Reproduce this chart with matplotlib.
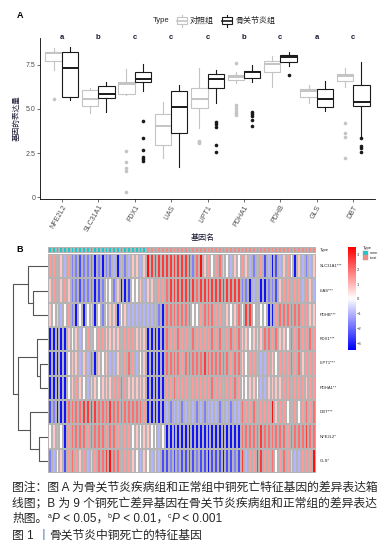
import numpy as np
import matplotlib
matplotlib.use("Agg")
import matplotlib.pyplot as plt
from matplotlib.colors import LinearSegmentedColormap, ListedColormap
from matplotlib.patches import Rectangle

plt.rcParams['font.family'] = ['Liberation Sans', 'Noto Sans CJK SC']

# ---------------- data: panel A (boxplots) ----------------
genes = ['NFE2L2', 'SLC31A1', 'FDX1', 'LIAS', 'LIPT1', 'PDHA1', 'PDHB', 'GLS', 'DBT']
sig_letters = ['a', 'b', 'c', 'c', 'c', 'b', 'c', 'a', 'c']

# 对照组
ctrl_lo = [7.19, 4.75, 5.78, 2.20, 3.90, 6.44, 6.25, 5.31, 6.21]
ctrl_q1 = [7.70, 5.15, 5.82, 2.95, 5.03, 6.63, 7.06, 5.65, 6.57]
ctrl_med = [8.17, 5.54, 6.40, 4.03, 5.55, 6.78, 7.53, 6.02, 6.85]
ctrl_q3 = [8.23, 6.06, 6.53, 4.69, 6.16, 6.91, 7.70, 6.10, 6.97]
ctrl_hi = [8.42, 6.15, 7.23, 5.40, 7.29, 7.10, 7.98, 6.34, 7.29]
ctrl_out = [[5.54], [], [2.63, 2.01, 1.67, 1.48, 0.28], [], [3.18, 3.10, 3.05],
            [7.60, 5.21, 5.03, 4.89, 4.75, 4.65], [], [], [4.18, 3.65, 3.39, 2.20]]

# 骨关节炎组
oa_lo = [5.50, 4.84, 6.02, 1.73, 5.31, 6.53, 7.40, 4.88, 3.45]
oa_q1 = [5.65, 5.59, 6.50, 3.62, 6.16, 6.72, 7.63, 5.08, 5.16]
oa_med = [7.29, 5.84, 6.68, 5.08, 6.68, 7.08, 7.91, 5.55, 5.37]
oa_q3 = [8.23, 6.29, 7.06, 6.00, 6.97, 7.15, 8.04, 6.10, 6.34]
oa_hi = [8.51, 6.53, 7.51, 6.34, 7.19, 7.47, 8.19, 6.57, 7.66]
oa_out = [[], [], [4.33, 3.33, 2.67, 2.29, 2.15, 2.05], [], [4.27, 4.14, 3.99, 2.95, 2.58],
          [4.84, 4.71, 4.59, 4.37, 4.03], [6.91], [], [3.33, 2.87, 2.78, 2.58]]

# ---------------- data: panel B (heatmap) ----------------
row_labels = ['SLC31A1***', 'LIAS***', 'PDHB***', 'FDX1***', 'LIPT1***',
              'PDHA1**', 'DBT***', 'NFE2L2*', 'GLS*']
n_norm, n_treat = 26, 45
# colour level per cell
levels = {'B': -3.2, 'b': -2.4, 'm': -1.7, 'l': -1.0, 'w': 0.1,
          'p': 0.8, 'q': 1.4, 'r': 2.0, 'R': 2.7, 'X': 3.3}
heat_rows = [
    "qqqplqmmbmmmBmBmmlBlmlpplp" + "XRRRRRRRRRRRmrXpqwqrpwlpwqplmlqblBblpqwBplmlp",
    "pqqpqpmmbmmmBbmwwmpBBbwwpl" + "ppqqqrRRRRRRRrRRRRRRRRRRRmmBllBBmmbpqqqqqlqpl",
    "pwplwqmBwBwpBwmwppBwplllll" + "lllmBrrrrrrrwwqrrrqqqpwprwRRwlwwBBqrrrrrrqqpp",
    "BBBBBpwplwqlwqqppppqqqqppp" + "BBBBBrqqrqqqrqqqqrqrqqrqrppwppprrqrppwrqrqqrq",
    "BBBBBwpplplmBpwpllpqqrqlwp" + "BBBBBrrrrqrrrrrRrrrrrrqrrpwqqqllqpwqqqrqrpqqq",
    "BBBBBwpqpwlppwpppqqrqppppp" + "BBBBBqqrqqqqqqqqqrqqqqqrqwwppwllppppqqqqqqpqq",
    "bmBBBrrrrRRRRrrrRrrrrrrrrq" + "BBBBBlmllmlllmlmlllmllmllrqqrqqqqXpqqwqqwqrqr",
    "wplwBqrrrrqrrrrqrrqqqqwpwp" + "pwwlwBBBBBBBBBBBBBBBBBBBBrrrrrRrrrrrrqrrrrRrr",
    "mlwpbqrqpqlpqrrRXrrqqqpwlp" + "wlplbbmbmbbbbmbbBbbbBbbmbRlqqRRqqrwqrqpllqqqX",
]
group_names = ['norm', 'treat']

# dendrogram merges: (cluster a, cluster b, height); new clusters numbered from 9
row_links = [(1, 2, 15), (0, 9, 20), (4, 5, 8), (3, 11, 11),
             (7, 8, 9), (6, 13, 18), (12, 14, 30), (10, 15, 35)]

W, H = 388, 549
fig = plt.figure(figsize=(W / 100, H / 100), dpi=100)


def fa(x0, y0, x1, y1):
    return [x0 / W, 1 - y1 / H, (x1 - x0) / W, (y1 - y0) / H]


# ================= panel A =================
ax = fig.add_axes(fa(40, 38, 375, 199))
ctrl_col, oa_col = '#c4c4c4', '#1a1a1a'
pos = np.arange(1, len(genes) + 1)
for lo, q1, med, q3, hi, out, col, off in [
        (ctrl_lo, ctrl_q1, ctrl_med, ctrl_q3, ctrl_hi, ctrl_out, ctrl_col, -0.225),
        (oa_lo, oa_q1, oa_med, oa_q3, oa_hi, oa_out, oa_col, 0.225)]:
    stats = [dict(whislo=lo[i], q1=q1[i], med=med[i], q3=q3[i], whishi=hi[i], fliers=out[i])
             for i in range(len(genes))]
    ax.bxp(stats, positions=pos + off, widths=0.45, patch_artist=True, showcaps=False,
           boxprops=dict(facecolor='white', edgecolor=col, linewidth=0.8),
           medianprops=dict(color=col, linewidth=1.4, solid_capstyle='butt'),
           whiskerprops=dict(color=col, linewidth=0.8),
           flierprops=dict(marker='o', markerfacecolor=col, markeredgecolor='none', markersize=2.6))

for i, s in enumerate(sig_letters):
    ax.text(pos[i], 9.0, s, ha='center', va='center', fontsize=5.5, fontweight='bold',
            color='#1a1a33', clip_on=False)

ax.set_xlim(0.4, 9.6)
ax.set_ylim(-0.1, 9.0)
ax.set_xticks(pos)
ax.set_xticklabels(genes, rotation=60, ha='right', rotation_mode='anchor')
ax.set_yticks([0, 2.5, 5, 7.5])
ax.set_yticklabels(['0', '2.5', '5.0', '7.5'])
ax.tick_params(labelsize=5, length=2, width=0.5, pad=1.5, colors='#333333', labelcolor='#4d4d4d')
for sp in ['top', 'right']:
    ax.spines[sp].set_visible(False)
for sp in ['left', 'bottom']:
    ax.spines[sp].set_linewidth(0.6)
ax.set_ylabel('基因的表达量', fontsize=5.5, labelpad=3, color='#1a1a33')

# ================= panel B =================
cmap = LinearSegmentedColormap.from_list('bwr2', ['#0000ff', '#ffffff', '#ff0000'])
vmin, vmax = -3.45, 3.5
mat = np.array([[levels[c] for c in r] for r in heat_rows])
ncol = n_norm + n_treat

axh = fig.add_axes(fa(48, 254, 316, 473))
axh.pcolormesh(np.arange(ncol + 1), np.arange(len(row_labels) + 1), mat, cmap=cmap,
               vmin=vmin, vmax=vmax, edgecolors='#b4b4b4', linewidth=0.18)
axh.set_xlim(0, ncol)
axh.set_ylim(len(row_labels), 0)
axh.axis('off')
for i, lab in enumerate(row_labels):
    axh.text(ncol + 0.9, i + 0.5, lab, fontsize=3, va='center', ha='left', color='#222222')

# annotation bar
axt = fig.add_axes(fa(48, 247, 316, 253))
grp = np.array([[0] * n_norm + [1] * n_treat])
ann_cmap = ListedColormap(['#1ec8c8', '#f28b86'])
axt.pcolormesh(np.arange(ncol + 1), [0, 1], grp, cmap=ann_cmap, vmin=0, vmax=1,
               edgecolors='#b4b4b4', linewidth=0.18)
axt.set_xlim(0, ncol)
axt.axis('off')
axt.text(ncol + 0.9, 0.5, 'Type', fontsize=3, va='center', ha='left', color='#222222')

# dendrogram
axd = fig.add_axes(fa(10, 254, 48, 473))
ypos = {i: i + 0.5 for i in range(len(row_labels))}
hgt = {i: 0 for i in range(len(row_labels))}
for k, (a, b, h) in enumerate(row_links):
    ya, yb = ypos[a], ypos[b]
    axd.plot([hgt[a], h, h, hgt[b]], [ya, ya, yb, yb], color='#555555', lw=0.8)
    nid = len(row_labels) + k
    ypos[nid] = (ya + yb) / 2
    hgt[nid] = h
axd.set_xlim(38, 0)
axd.set_ylim(len(row_labels), 0)
axd.axis('off')

# colour bar
axc = fig.add_axes(fa(348, 247, 355, 350))
grad = np.linspace(vmin, vmax, 200).reshape(-1, 1)
axc.imshow(grad, aspect='auto', cmap=cmap, vmin=vmin, vmax=vmax, origin='lower',
           extent=[0, 1, vmin, vmax])
axc.set_xticks([])
axc.yaxis.tick_right()
axc.set_yticks([-3, -2, -1, 0, 1, 2, 3])
axc.tick_params(axis='y', length=0, labelsize=3, pad=1.5, labelcolor='#333333')
for sp in axc.spines.values():
    sp.set_visible(False)

# ================= overlay: legends, labels, caption =================
ov = fig.add_axes([0, 0, 1, 1], zorder=5)
ov.set_xlim(0, W)
ov.set_ylim(H, 0)
ov.axis('off')

ov.text(20, 15, 'A', fontsize=6.5, fontweight='bold', ha='center', va='center')
ov.text(20, 250, 'B', fontsize=6.5, fontweight='bold', ha='center', va='center')
ov.text(203, 238, '基因名', fontsize=5.8, ha='center', va='center', color='#1a1a33')

# boxplot legend
ov.text(153, 20.5, 'Type', fontsize=5.5, ha='left', va='center', color='#222222')
for x0, col, lab in [(177, ctrl_col, '对照组'), (222, oa_col, '骨关节炎组')]:
    ov.add_patch(Rectangle((x0, 17), 10, 7, facecolor='white', edgecolor=col, lw=0.8))
    ov.plot([x0, x0 + 10], [20.5, 20.5], color=col, lw=1.2)
    ov.plot([x0 + 5, x0 + 5], [14.5, 17], color=col, lw=0.8)
    ov.plot([x0 + 5, x0 + 5], [24, 26.5], color=col, lw=0.8)
    ov.text(x0 + 13, 20.5, lab, fontsize=5.8, ha='left', va='center', color='#222222')

# heatmap legend
ov.text(362.5, 247.5, 'Type', fontsize=3, ha='left', va='center', color='#222222')
for j, (c, lab) in enumerate(zip(['#1ec8c8', '#f28b86'], group_names)):
    ov.add_patch(Rectangle((362.5, 250.8 + j * 4.6), 5.6, 4.2, facecolor=c, edgecolor='#a0a0a0', lw=0.3))
    ov.text(370, 253 + j * 4.6, lab, fontsize=2.6, ha='left', va='center', color='#222222')

# caption
cap_col = '#262626'
rend = fig.canvas.get_renderer()


def runs(x, y, parts):
    for s, kw in parts:
        dy = kw.pop('dy', 0)
        t = ov.text(x, y + dy, s, va='baseline', ha='left', color=kw.pop('color', cap_col), **kw)
        x = t.get_window_extent(rend).x1


fs = 8.5
runs(12.5, 491, [('图注：图 A 为骨关节炎疾病组和正常组中铜死亡特征基因的差异表达箱', dict(fontsize=fs))])
runs(12.5, 506.5, [('线图；B 为 9 个铜死亡差异基因在骨关节炎疾病组和正常组的差异表达', dict(fontsize=fs))])
runs(12.5, 522, [('热图。', dict(fontsize=fs)),
                 ('a', dict(fontsize=5, dy=-4)), ('P', dict(fontsize=fs, style='italic')),
                 (' < 0.05，', dict(fontsize=fs)),
                 ('b', dict(fontsize=5, dy=-4)), ('P', dict(fontsize=fs, style='italic')),
                 (' < 0.01，', dict(fontsize=fs)),
                 ('c', dict(fontsize=5, dy=-4)), ('P', dict(fontsize=fs, style='italic')),
                 (' < 0.001', dict(fontsize=fs))])
runs(12.5, 539, [('图 1 ', dict(fontsize=fs)), ('丨', dict(fontsize=fs, color='#3d6fb6')),
                 ('骨关节炎中铜死亡的特征基因', dict(fontsize=fs))])

fig.savefig('out.png', dpi=100)
